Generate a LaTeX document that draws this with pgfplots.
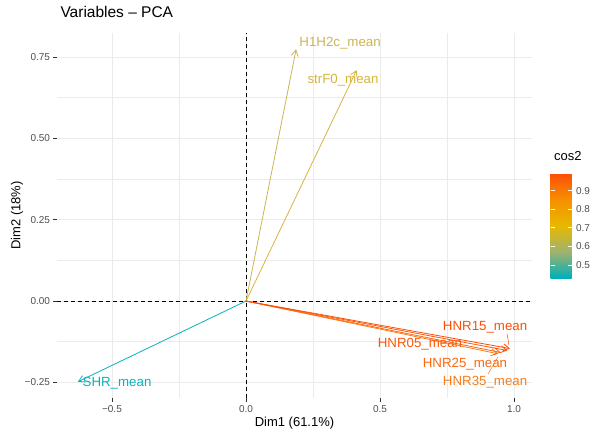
\documentclass[border=0pt]{standalone}
\usepackage{pgfplots}
\pgfplotsset{compat=1.18}
\usepackage{fontspec}
\setmainfont{Liberation Sans}
\usetikzlibrary{arrows.meta}
\definecolor{gridgray}{RGB}{235,235,235}
\definecolor{tickgray}{RGB}{77,77,77}
\definecolor{cSHR}{RGB}{10,177,188}
\definecolor{cH1H2c}{RGB}{204,180,82}
\definecolor{cstrF0}{RGB}{214,181,62}
\definecolor{cHNR15}{RGB}{252,78,7}
\definecolor{cHNR05}{RGB}{252,88,10}
\definecolor{cHNR25}{RGB}{251,104,16}
\definecolor{cHNR35}{RGB}{249,124,24}
\tikzset{vec/.style={line width=0.8pt, -{Straight Barb[length=6pt,width=7pt]}}}
\begin{document}
\begin{tikzpicture}
\begin{axis}[
  name=ax,
  scale only axis, width=475pt, height=365pt,
  xmin=-0.705, xmax=1.067, ymin=-0.298, ymax=0.824,
  axis line style={draw=none},
  tick pos=left, tick align=outside, major tick length=3.5pt, minor tick length=0pt,
  tick style={color=black!80, line width=0.7pt},
  xtick={-0.5,0,0.5,1}, xticklabels={−0.5,0.0,0.5,1.0},
  ytick={-0.25,0,0.25,0.5,0.75}, yticklabels={−0.25,0.00,0.25,0.50,0.75},
  minor xtick={-0.25,0.25,0.75}, minor ytick={-0.125,0.125,0.375,0.625},
  grid=both,
  major grid style={gridgray, line width=0.9pt},
  minor grid style={gridgray, line width=0.6pt},
  ticklabel style={font=\fontsize{10}{12}\selectfont, text=tickgray},
  xlabel={Dim1 (61.1\%)}, ylabel={Dim2 (18\%)},
  label style={font=\fontsize{13}{15}\selectfont},
  xlabel style={at={(axis description cs:0.5,-0.0685)}, anchor=center},
  ylabel style={at={(axis description cs:-0.084,0.5)}, anchor=center},
  title={Variables – PCA},
  title style={at={(axis description cs:0,1)}, anchor=base west, yshift=9pt, font=\fontsize{15.5}{18}\selectfont},
  colormap={cos2}{rgb255(0cm)=(0,175,187); rgb255(1cm)=(160,178,110); rgb255(2cm)=(231,184,0); rgb255(3cm)=(246,143,0); rgb255(4cm)=(252,78,7)},
  point meta min=0.43, point meta max=0.995,
  colorbar,
  colorbar/width=21pt,
  colorbar style={
    at={(parent axis.south east)}, anchor=south west,
    xshift=10pt, yshift=120pt,
    scale only axis, height=105pt,
    axis line style={draw=none},
    ytick={0.5,0.6,0.7,0.8,0.9}, yticklabels={0.5,0.6,0.7,0.8,0.9},
    ytick pos=both, yticklabel pos=right, tick align=inside,
    major tick length=4pt,
    tick style={white, line width=0.8pt},
    yticklabel style={font=\fontsize{10}{12}\selectfont, text=tickgray, xshift=1pt},
    title={cos2},
    title style={at={(axis description cs:0,1)}, anchor=base west, yshift=7pt, font=\fontsize{13}{15}\selectfont},
  },
  clip=false,
]
% reference lines
\addplot[black, line width=0.8pt, dash pattern=on 4pt off 3pt] coordinates {(-0.705,0) (1.067,0)};
\addplot[black, line width=0.8pt, dash pattern=on 4pt off 3pt] coordinates {(0,-0.298) (0,0.824)};
% variable arrows
\addplot[cSHR, vec] coordinates {(0,0) (-0.627,-0.248)};
\addplot[cH1H2c, vec] coordinates {(0,0) (0.187,0.774)};
\addplot[cstrF0, vec] coordinates {(0,0) (0.413,0.710)};
\addplot[cHNR35, vec] coordinates {(0,0) (0.940,-0.162)};
\addplot[cHNR25, vec] coordinates {(0,0) (0.950,-0.158)};
\addplot[cHNR05, vec] coordinates {(0,0) (0.975,-0.152)};
\addplot[cHNR15, vec] coordinates {(0,0) (0.985,-0.146)};
% label connectors
\addplot[cHNR15, line width=0.5pt] coordinates {(0.974,-0.101) (0.981,-0.135)};
\addplot[cHNR35, line width=0.5pt] coordinates {(0.903,-0.224) (0.940,-0.172)};
% labels
\node[text=cH1H2c, font=\fontsize{13.3}{15}\selectfont] at (axis cs:0.351,0.793) {H1H2c\_mean};
\node[text=cstrF0, font=\fontsize{13.3}{15}\selectfont] at (axis cs:0.362,0.679) {strF0\_mean};
\node[text=cSHR, font=\fontsize{13.3}{15}\selectfont] at (axis cs:-0.481,-0.252) {SHR\_mean};
\node[text=cHNR15, font=\fontsize{13.3}{15}\selectfont] at (axis cs:0.892,-0.080) {HNR15\_mean};
\node[text=cHNR05, font=\fontsize{13.3}{15}\selectfont] at (axis cs:0.649,-0.132) {HNR05\_mean};
\node[text=cHNR25, font=\fontsize{13.3}{15}\selectfont] at (axis cs:0.817,-0.194) {HNR25\_mean};
\node[text=cHNR35, font=\fontsize{13.3}{15}\selectfont] at (axis cs:0.892,-0.249) {HNR35\_mean};
\end{axis}
\pgfresetboundingbox
\path[use as bounding box] ([shift={(-57pt,-34pt)}]ax.south west) rectangle ([shift={(59pt,33pt)}]ax.north east);
\end{tikzpicture}
\end{document}
